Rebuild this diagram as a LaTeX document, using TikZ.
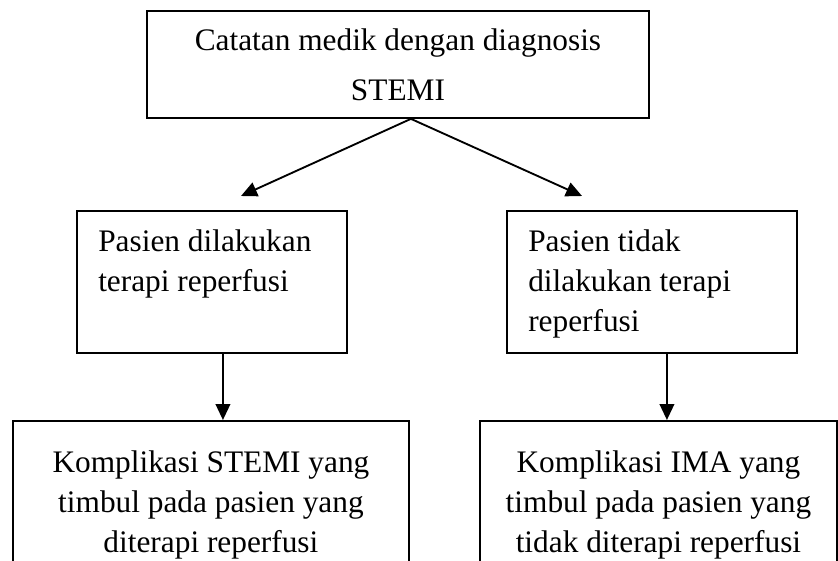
\documentclass[tikz,border=0pt]{standalone}
\usepackage{fontspec}
\setmainfont{Liberation Serif}
\usetikzlibrary{arrows.meta}

\begin{document}
\begin{tikzpicture}[
    x=0.75pt,
    y=-0.75pt,
    >={Triangle[length=12pt,width=11pt]},
    line width=1.4pt
]

\tikzstyle{box}=[
    draw,
    rectangle,
    anchor=north west,
    inner xsep=16pt,
    font=\fontsize{23.5pt}{30pt}\selectfont
]
\tikzstyle{arrow}=[->, line width=1.4pt]

\useasboundingbox (0,0) rectangle (838,560);
\clip (0,0) rectangle (838,560);

\node[box, minimum width=376.5pt, minimum height=80.25pt, align=center] (diag) at (146,10)
    {Catatan medik dengan diagnosis\\[7.5pt]STEMI};

\node[box, inner ysep=14pt] (terapi) at (76,210)
    {\parbox[t][78.5pt][t]{170.5pt}{\raggedright Pasien dilakukan\\ terapi reperfusi}};
\node[box, inner ysep=14pt] (tanpa) at (506,210)
    {\parbox[t][78.5pt][t]{185.5pt}{\raggedright Pasien tidak\\ dilakukan terapi\\ reperfusi}};

\node[box, inner xsep=8pt, inner ysep=22pt] (kompL) at (12,420)
    {\parbox[t][90pt][t]{281pt}{\centering Komplikasi STEMI yang\\ timbul pada pasien yang\\ diterapi reperfusi}};
\node[box, inner xsep=8pt, inner ysep=22pt] (kompR) at (479,420)
    {\parbox[t][90pt][t]{251.75pt}{\centering Komplikasi IMA yang\\ timbul pada pasien yang\\ tidak diterapi reperfusi}};

\coordinate (tipL) at (241,196);
\coordinate (tipR) at (582,196);

\draw[arrow] ([xshift=9.75pt]diag.south) -- (tipL);
\draw[arrow] ([xshift=9.75pt]diag.south) -- (tipR);
\draw[arrow] ([xshift=8.25pt]terapi.south) -- ([xshift=8.25pt]terapi.south |- kompL.north);
\draw[arrow] ([xshift=11.25pt]tanpa.south) -- ([xshift=11.25pt]tanpa.south |- kompR.north);

\end{tikzpicture}
\end{document}
